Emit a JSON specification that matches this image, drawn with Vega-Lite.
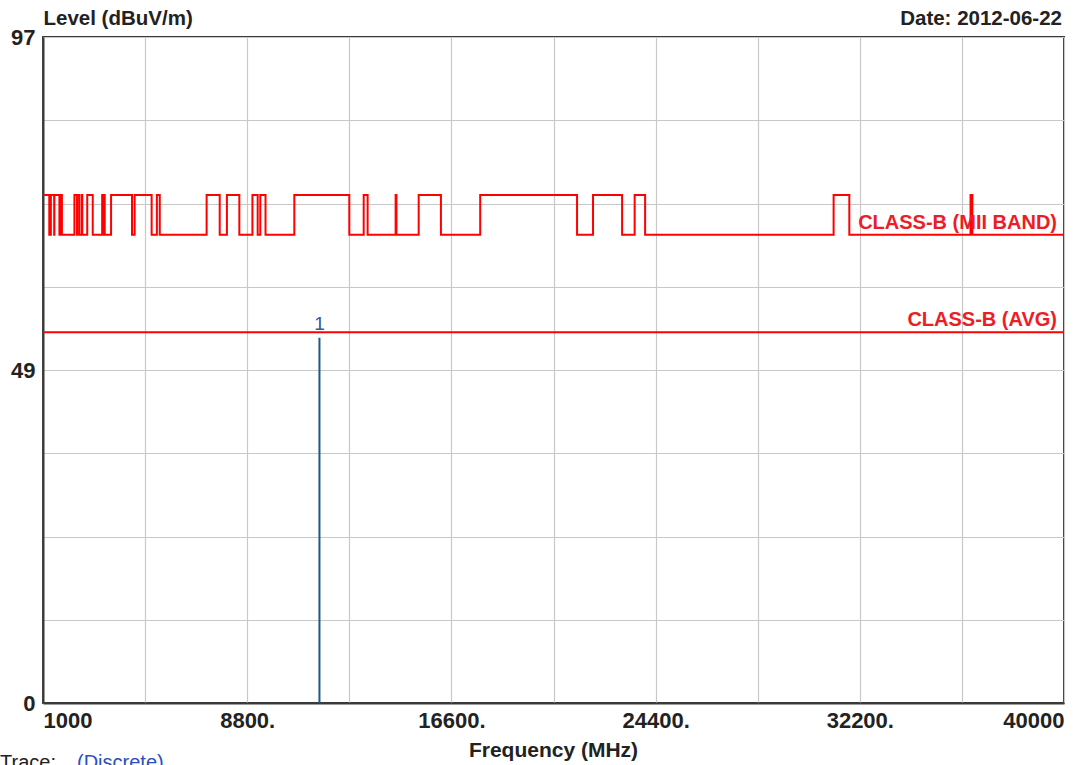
{
  "$schema": "https://vega.github.io/schema/vega-lite/v6.json",
  "autosize": "none",
  "width": 1021,
  "height": 666,
  "padding": {"left": 43, "top": 37, "right": 28, "bottom": 62},
  "background": "white",
  "config": {
    "view": {"stroke": "#3a3a3a", "strokeWidth": 2},
    "font": "Liberation Sans"
  },
  "datasets": {
    "limit": [
      {"f": 1000, "level": 74}, {"f": 1240, "level": 68.2},
      {"f": 1300, "level": 74}, {"f": 1427, "level": 68.2},
      {"f": 1435, "level": 74}, {"f": 1626.5, "level": 68.2},
      {"f": 1645, "level": 74}, {"f": 1646.5, "level": 68.2},
      {"f": 1660, "level": 74}, {"f": 1710, "level": 68.2},
      {"f": 1718.8, "level": 74}, {"f": 1722.2, "level": 68.2},
      {"f": 2200, "level": 74}, {"f": 2300, "level": 68.2},
      {"f": 2310, "level": 74}, {"f": 2390, "level": 68.2},
      {"f": 2483.5, "level": 74}, {"f": 2500, "level": 68.2},
      {"f": 2690, "level": 74}, {"f": 2900, "level": 68.2},
      {"f": 3260, "level": 74}, {"f": 3267, "level": 68.2},
      {"f": 3332, "level": 74}, {"f": 3339, "level": 68.2},
      {"f": 3345.8, "level": 74}, {"f": 3358, "level": 68.2},
      {"f": 3600, "level": 74}, {"f": 4400, "level": 68.2},
      {"f": 4500, "level": 74}, {"f": 5150, "level": 68.2},
      {"f": 5350, "level": 74}, {"f": 5460, "level": 68.2},
      {"f": 7250, "level": 74}, {"f": 7750, "level": 68.2},
      {"f": 8025, "level": 74}, {"f": 8500, "level": 68.2},
      {"f": 9000, "level": 74}, {"f": 9200, "level": 68.2},
      {"f": 9300, "level": 74}, {"f": 9500, "level": 68.2},
      {"f": 10600, "level": 74}, {"f": 12700, "level": 68.2},
      {"f": 13250, "level": 74}, {"f": 13400, "level": 68.2},
      {"f": 14470, "level": 74}, {"f": 14500, "level": 68.2},
      {"f": 15350, "level": 74}, {"f": 16200, "level": 68.2},
      {"f": 17700, "level": 74}, {"f": 21400, "level": 68.2},
      {"f": 22010, "level": 74}, {"f": 23120, "level": 68.2},
      {"f": 23600, "level": 74}, {"f": 24000, "level": 68.2},
      {"f": 31200, "level": 74}, {"f": 31800, "level": 68.2},
      {"f": 36430, "level": 74}, {"f": 36500, "level": 68.2},
      {"f": 40000, "level": 68.2}
    ],
    "avg": [
      {"f": 1000, "level": 54},
      {"f": 40000, "level": 54}
    ],
    "spike": [
      {"f": 11560, "level": 53.2, "marker": "1"}
    ],
    "limitLabels": [
      {"f": 40000, "level": 68.2, "label": "CLASS-B (MII BAND)"},
      {"f": 40000, "level": 54, "label": "CLASS-B (AVG)"}
    ],
    "header": [
      {"f": 40000, "level": 97, "label": "Date: 2012-06-22"}
    ],
    "notes": [
      {"f": 1000, "level": 0, "part": "a", "label": "Trace:"},
      {"f": 1000, "level": 0, "part": "b", "label": "(Discrete)"}
    ]
  },
  "layer": [
    {
      "data": {"name": "limit"},
      "mark": {"type": "line", "interpolate": "step-after", "color": "#ff0000", "strokeWidth": 2},
      "encoding": {
        "x": {
          "field": "f",
          "type": "quantitative",
          "scale": {"domain": [1000, 40000], "nice": false, "zero": false},
          "axis": {
            "values": [1000, 4900, 8800, 12700, 16600, 20500, 24400, 28300, 32200, 36100, 40000],
            "labelExpr": "datum.value == 1000 ? '1000' : datum.value == 40000 ? '40000' : ((datum.value - 1000) % 7800 == 0 ? datum.value + '.' : '')",
            "grid": true,
            "gridColor": "#c8c8c8",
            "gridWidth": 1.2,
            "ticks": false,
            "domain": true,
            "domainColor": "#3a3a3a",
            "domainWidth": 2,
            "labelFont": "Liberation Sans",
            "labelFontSize": 22,
            "labelFontWeight": "bold",
            "labelColor": "#222222",
            "labelPadding": 7,
            "labelFlush": true,
            "labelOverlap": false,
            "title": "Frequency (MHz)",
            "titleFont": "Liberation Sans",
            "titleFontSize": 21,
            "titleFontWeight": "bold",
            "titleColor": "#222222",
            "titleX": 510,
            "titleY": 53,
            "titleBaseline": "alphabetic",
            "titleAlign": "center"
          }
        },
        "y": {
          "field": "level",
          "type": "quantitative",
          "scale": {"domain": [0, 97], "nice": false, "zero": true},
          "axis": {
            "values": [0, 12.125, 24.25, 36.375, 48.5, 60.625, 72.75, 84.875, 97],
            "labelExpr": "datum.value == 97 ? '97' : datum.value == 48.5 ? '49' : datum.value == 0 ? '0' : ''",
            "grid": true,
            "gridColor": "#c8c8c8",
            "gridWidth": 1.2,
            "ticks": false,
            "domain": true,
            "domainColor": "#3a3a3a",
            "domainWidth": 2,
            "labelFont": "Liberation Sans",
            "labelFontSize": 22,
            "labelFontWeight": "bold",
            "labelColor": "#222222",
            "labelPadding": 8,
            "labelFlush": false,
            "labelOverlap": false,
            "title": "Level (dBuV/m)",
            "titleFont": "Liberation Sans",
            "titleFontSize": 20.5,
            "titleFontWeight": "bold",
            "titleColor": "#222222",
            "titleAngle": 0,
            "titleX": 0,
            "titleY": -13,
            "titleAlign": "left",
            "titleBaseline": "alphabetic"
          }
        }
      }
    },
    {
      "data": {"name": "avg"},
      "mark": {"type": "line", "color": "#ff0000", "strokeWidth": 2},
      "encoding": {
        "x": {"field": "f", "type": "quantitative"},
        "y": {"field": "level", "type": "quantitative"}
      }
    },
    {
      "data": {"name": "spike"},
      "mark": {"type": "rule", "color": "#1d5a8a", "strokeWidth": 2},
      "encoding": {
        "x": {"field": "f", "type": "quantitative"},
        "y": {"field": "level", "type": "quantitative"},
        "y2": {"datum": 0}
      }
    },
    {
      "data": {"name": "spike"},
      "mark": {"type": "text", "color": "#3355aa", "fontSize": 19, "font": "Liberation Sans", "baseline": "alphabetic", "align": "center", "dy": -8},
      "encoding": {
        "x": {"field": "f", "type": "quantitative"},
        "y": {"field": "level", "type": "quantitative"},
        "text": {"field": "marker"}
      }
    },
    {
      "data": {"name": "limitLabels"},
      "mark": {"type": "text", "color": "#ee1c25", "fontSize": 20, "fontWeight": "bold", "font": "Liberation Sans", "baseline": "alphabetic", "align": "right", "dx": -7, "dy": -6},
      "encoding": {
        "x": {"field": "f", "type": "quantitative"},
        "y": {"field": "level", "type": "quantitative"},
        "text": {"field": "label"}
      }
    },
    {
      "data": {"name": "header"},
      "mark": {"type": "text", "color": "#222222", "fontSize": 20.5, "fontWeight": "bold", "font": "Liberation Sans", "baseline": "alphabetic", "align": "right", "dx": -2, "dy": -12, "clip": false},
      "encoding": {
        "x": {"field": "f", "type": "quantitative"},
        "y": {"field": "level", "type": "quantitative"},
        "text": {"field": "label"}
      }
    },
    {
      "data": {"name": "notes"},
      "transform": [{"filter": "datum.part == 'a'"}],
      "mark": {"type": "text", "color": "#222222", "fontSize": 20, "font": "Liberation Sans", "baseline": "alphabetic", "align": "left", "dx": -43, "dy": 66, "clip": false},
      "encoding": {
        "x": {"field": "f", "type": "quantitative"},
        "y": {"field": "level", "type": "quantitative"},
        "text": {"field": "label"}
      }
    },
    {
      "data": {"name": "notes"},
      "transform": [{"filter": "datum.part == 'b'"}],
      "mark": {"type": "text", "color": "#2a4fc0", "fontSize": 20, "font": "Liberation Sans", "baseline": "alphabetic", "align": "left", "dx": 34, "dy": 66, "clip": false},
      "encoding": {
        "x": {"field": "f", "type": "quantitative"},
        "y": {"field": "level", "type": "quantitative"},
        "text": {"field": "label"}
      }
    }
  ]
}
